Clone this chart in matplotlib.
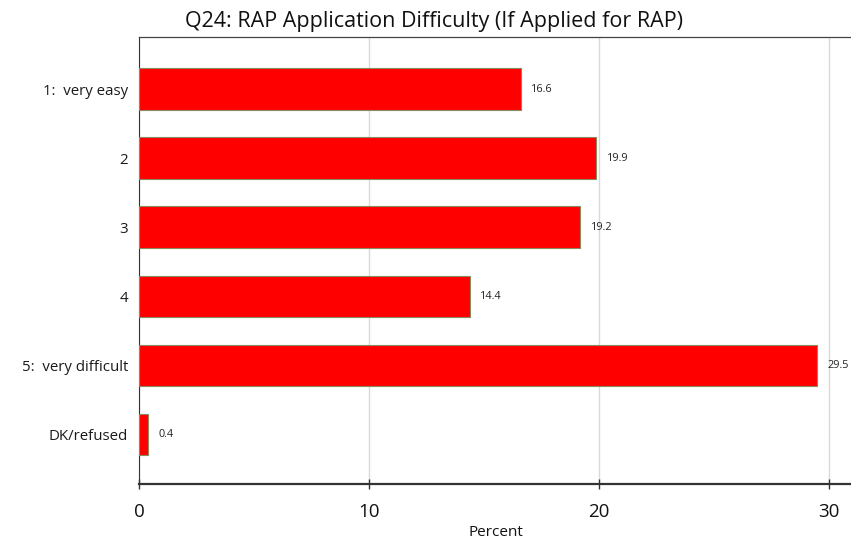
import matplotlib.pyplot as plt

categories = ['1:  very easy', '2', '3', '4', '5:  very difficult', 'DK/refused']
values = [16.6, 19.9, 19.2, 14.4, 29.5, 0.4]
xticks = [0, 10, 20, 30]

plt.rcParams['font.family'] = ['Open Sans', 'DejaVu Sans']

fig = plt.figure(figsize=(8.51, 5.41), dpi=100)
ax = fig.add_axes([139 / 851, 1 - 484 / 541, 1 - 139 / 851 + 0.002, (484 - 37) / 541])

pos = list(range(len(categories)))
ax.barh(pos, values, height=0.6, color='#ff0000', edgecolor='#8a8a60', linewidth=0.8, zorder=3)
for p, v in zip(pos, values):
    ax.text(v + 0.45, p, f'{v:.1f}', va='center', ha='left', fontsize=7.8, color='#222222', zorder=4)

ax.set_ylim(5.72, -0.755)
ax.set_xlim(0, 31.05)
ax.set_yticks(pos)
ax.set_yticklabels(categories, fontsize=10.8, color='#1a1a1a')
ax.tick_params(axis='y', length=0, pad=8)
ax.set_xticks(xticks)
ax.set_xticklabels([str(t) for t in xticks], fontsize=13.5, color='#111111')
ax.tick_params(axis='x', length=7, width=1, color='#333333', pad=10, direction='inout')
ax.grid(axis='x', color='#d9d9d9', linewidth=1, zorder=0)

ax.spines['right'].set_visible(False)
ax.spines['left'].set_color('#333333')
ax.spines['top'].set_color('#444444')
ax.spines['top'].set_linewidth(0.9)
ax.spines['bottom'].set_color('#333333')
ax.spines['bottom'].set_linewidth(1.6)

fig.text(434 / 851, 1 - 22 / 541, 'Q24: RAP Application Difficulty (If Applied for RAP)',
         ha='center', va='center', fontsize=15.5, color='#111111')
fig.text(496 / 851, 1 - 532 / 541, 'Percent', ha='center', va='center', fontsize=11, color='#111111')

fig.savefig('out.png', dpi=100)
